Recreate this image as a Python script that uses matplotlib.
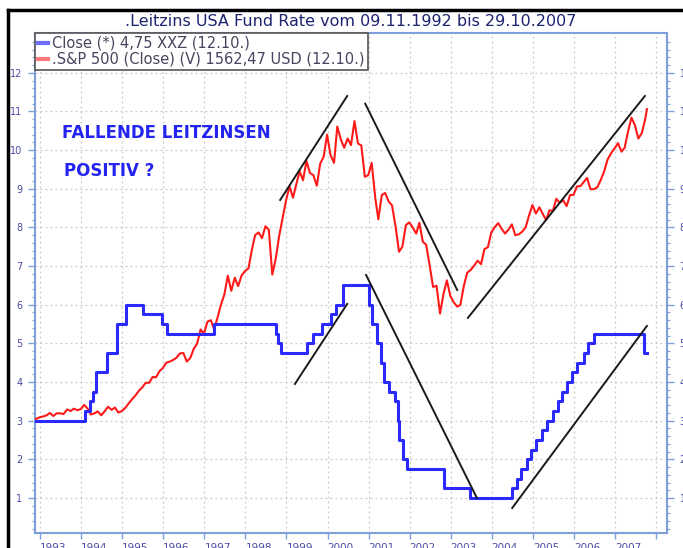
import numpy as np
import pandas as pd
import matplotlib
matplotlib.use("Agg")
import matplotlib.pyplot as plt
from matplotlib.lines import Line2D

# Leitzins (Fed funds target) - change dates and levels
fed_dates = ['1992-11-09', '1994-02-04', '1994-03-22', '1994-04-18', '1994-05-17', '1994-08-16',
             '1994-11-15', '1995-02-01', '1995-07-06', '1995-12-19', '1996-01-31', '1997-03-25',
             '1998-09-29', '1998-10-15', '1998-11-17', '1999-06-30', '1999-08-24', '1999-11-16',
             '2000-02-02', '2000-03-21', '2000-05-16', '2001-01-03', '2001-01-31', '2001-03-20',
             '2001-04-18', '2001-05-15', '2001-06-27', '2001-08-21', '2001-09-17', '2001-10-02',
             '2001-11-06', '2001-12-11', '2002-11-06', '2003-06-25', '2004-06-30', '2004-08-10',
             '2004-09-21', '2004-11-10', '2004-12-14', '2005-02-02', '2005-03-22', '2005-05-03',
             '2005-06-30', '2005-08-09', '2005-09-20', '2005-11-01', '2005-12-13', '2006-01-31',
             '2006-03-28', '2006-05-10', '2006-06-29', '2007-09-18', '2007-10-12']
fed_rate = [3.0, 3.25, 3.5, 3.75, 4.25, 4.75, 5.5, 6.0, 5.75, 5.5, 5.25, 5.5,
            5.25, 5.0, 4.75, 5.0, 5.25, 5.5, 5.75, 6.0, 6.5, 6.0, 5.5, 5.0,
            4.5, 4.0, 3.75, 3.5, 3.0, 2.5, 2.0, 1.75, 1.25, 1.0, 1.25, 1.5,
            1.75, 2.0, 2.25, 2.5, 2.75, 3.0, 3.25, 3.5, 3.75, 4.0, 4.25, 4.5,
            4.75, 5.0, 5.25, 4.75, 4.75]

# S&P 500 (V) in chart units
sp_1992 = [3.03, 3.05, 3.09]
sp_1993 = [3.11, 3.14, 3.20, 3.12, 3.19, 3.19, 3.17, 3.29, 3.25, 3.31, 3.27, 3.30]
sp_1994 = [3.41, 3.31, 3.16, 3.19, 3.24, 3.14, 3.24, 3.36, 3.28, 3.34, 3.21, 3.25]
sp_1995 = [3.33, 3.45, 3.55, 3.65, 3.77, 3.86, 3.98, 3.98, 4.13, 4.12, 4.28, 4.36]
sp_1996 = [4.50, 4.53, 4.57, 4.63, 4.74, 4.75, 4.53, 4.62, 4.86, 4.99, 5.36, 5.25]
sp_1997 = [5.56, 5.60, 5.36, 5.67, 6.00, 6.27, 6.75, 6.36, 6.70, 6.48, 6.76, 6.87]
sp_1998 = [6.94, 7.43, 7.80, 7.87, 7.72, 8.03, 7.94, 6.78, 7.20, 7.78, 8.24, 8.70]
sp_1999 = [9.06, 8.77, 9.10, 9.45, 9.22, 9.72, 9.41, 9.35, 9.08, 9.65, 9.83, 10.40]
sp_2000 = [9.87, 9.67, 10.61, 10.28, 10.06, 10.30, 10.13, 10.75, 10.17, 10.12, 9.31, 9.35]
sp_2001 = [9.67, 8.78, 8.21, 8.84, 8.89, 8.67, 8.57, 8.03, 7.37, 7.50, 8.06, 8.13]
sp_2002 = [8.00, 7.84, 8.12, 7.63, 7.55, 7.01, 6.46, 6.49, 5.77, 6.27, 6.63, 6.23]
sp_2003 = [6.06, 5.95, 6.00, 6.49, 6.83, 6.90, 7.01, 7.14, 7.05, 7.44, 7.49, 7.87]
sp_2004 = [8.01, 8.11, 7.97, 7.84, 7.94, 8.08, 7.80, 7.82, 7.89, 8.00, 8.31, 8.58]
sp_2005 = [8.36, 8.52, 8.36, 8.19, 8.44, 8.43, 8.74, 8.64, 8.70, 8.55, 8.84, 8.84]
sp_2006 = [9.06, 9.07, 9.17, 9.28, 8.99, 8.99, 9.04, 9.23, 9.46, 9.76, 9.92, 10.04]
sp_2007 = [10.18, 9.96, 10.06, 10.49, 10.84, 10.64, 10.30, 10.44, 10.81, 11.06]

sp_vals = (sp_1992 + sp_1993 + sp_1994 + sp_1995 + sp_1996 + sp_1997 + sp_1998 + sp_1999
           + sp_2000 + sp_2001 + sp_2002 + sp_2003 + sp_2004 + sp_2005 + sp_2006 + sp_2007)
sp_dates = ['1992-11-09']
for y in range(1992, 2008):
    for m in range(1, 13):
        if (y == 1992 and m < 11) or (y == 2007 and m > 9):
            continue
        sp_dates.append(f"{y}-{m:02d}-28")
sp_dates.append('2007-10-12')

# hand drawn trend lines
trend_start_dates = ['1998-11-06', '2000-12-02', '2003-06-03', '1999-03-17', '2000-12-09', '2004-07-01']
trend_start_vals = [8.71, 11.20, 5.66, 3.95, 6.77, 0.74]
trend_end_dates = ['2000-06-24', '2003-02-28', '2007-09-24', '2000-06-24', '2003-08-22', '2007-10-12']
trend_end_vals = [11.40, 6.38, 11.40, 6.02, 1.00, 5.45]

years = list(range(1993, 2009))
year_labels = [str(y) for y in range(1993, 2008)] + ['']

W, H = 683, 548
fig = plt.figure(figsize=(W / 100, H / 100), dpi=100)
ax = fig.add_axes([35 / W, (H - 533) / H, (667 - 35) / W, (533 - 33) / H])

spine_col = '#7f9fdc'
tick_col = '#4b4ba5'

ax.plot(pd.to_datetime(sp_dates), sp_vals, color='#ff1a1a', lw=1.5, zorder=3)
ax.step(pd.to_datetime(fed_dates), fed_rate, where='post', color='#2a2aff', lw=2.2, zorder=4)

for d0, v0, d1, v1 in zip(trend_start_dates, trend_start_vals, trend_end_dates, trend_end_vals):
    ax.plot(pd.to_datetime([d0, d1]), [v0, v1], color='#1a1a1a', lw=1.4, zorder=5)

ax.set_xticks(pd.to_datetime([f"{y}-01-01" for y in years]))
ax.set_xticklabels(year_labels, ha='left')
ax.set_xlim(pd.Timestamp('1992-11-16'), pd.Timestamp('2008-04-08'))
ax.set_ylim(0.094, 13.03)
ax.set_yticks(range(1, 13))
ax.set_yticks(np.arange(0.2, 13.0, 0.2), minor=True)

ax.grid(True, which='major', color='#c8c8c8', linestyle=(0, (1.5, 2.5)), lw=0.9)
for s in ax.spines.values():
    s.set_color(spine_col)
    s.set_linewidth(1.5)

ax.tick_params(axis='y', which='major', direction='out', length=5, width=1, color=spine_col,
               labelsize=7, labelcolor=tick_col, left=True, right=True, labelleft=True,
               labelright=True, pad=4)
ax.tick_params(axis='y', which='minor', direction='out', length=2.5, width=0.8, color=spine_col,
               left=True, right=True)
ax.tick_params(axis='x', which='major', direction='out', length=4, width=1, color=spine_col,
               labelsize=7.5, labelcolor=tick_col, pad=3)

handles = [Line2D([], [], color='#6d6dff', lw=3), Line2D([], [], color='#ff7a7a', lw=3)]
labels = ['Close (*) 4,75 XXZ (12.10.)', '.S&P 500 (Close) (V) 1562,47 USD (12.10.)']
leg = ax.legend(handles, labels, loc='upper left', bbox_to_anchor=(0, 1), borderaxespad=0,
                fontsize=10.5, handlelength=0.7, handletextpad=0.3, labelspacing=0.05,
                borderpad=0.2, fancybox=False, framealpha=1, edgecolor='#555555')
leg.get_frame().set_linewidth(1.2)
for t in leg.get_texts():
    t.set_color('#45455f')

fig.text(351 / W, 1 - 22 / H, '.Leitzins USA Fund Rate vom 09.11.1992 bis 29.10.2007',
         ha='center', va='center', fontsize=11.5, color='#1c2470')

fig.text(62 / W, 1 - 133 / H, 'FALLENDE LEITZINSEN', ha='left', va='center',
         fontsize=12, fontweight='bold', color='#2424f0')
fig.text(64 / W, 1 - 171 / H, 'POSITIV ?', ha='left', va='center',
         fontsize=12, fontweight='bold', color='#2424f0')

# black window frame top and left
fig.add_artist(Line2D([8 / W, 8 / W], [0, 1 - 10 / H], color='black', lw=2.5))
fig.add_artist(Line2D([8 / W, 1], [1 - 10 / H, 1 - 10 / H], color='black', lw=2.5))

fig.savefig('out.png', dpi=100)
